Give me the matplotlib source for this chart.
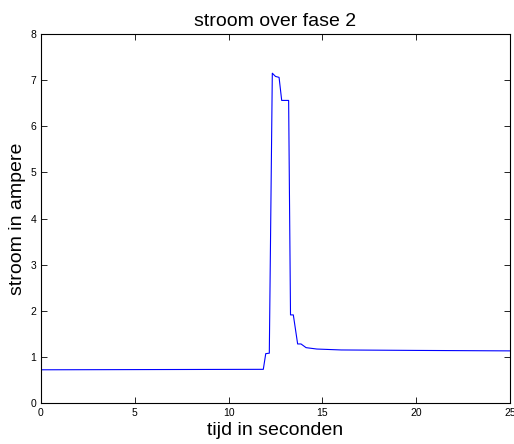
import matplotlib.pyplot as plt

# tijd (s) en stroom (A)
tijd = [0, 11.85, 11.98, 12.17, 12.33, 12.5, 12.69, 12.83, 13.2, 13.3, 13.45,
        13.68, 13.86, 14.13, 14.7, 16, 20, 25]
stroom = [0.72, 0.73, 1.07, 1.08, 7.15, 7.08, 7.06, 6.56, 6.56, 1.91, 1.91,
          1.28, 1.28, 1.2, 1.17, 1.15, 1.14, 1.13]

xticks = [0, 5, 10, 15, 20, 25]
yticks = [0, 1, 2, 3, 4, 5, 6, 7, 8]

plt.rcParams['font.family'] = ['Liberation Sans', 'DejaVu Sans']

fig = plt.figure(figsize=(5.14, 4.44), dpi=100)
ax = fig.add_axes([41/514, 1 - 403/444, 469/514, 369/444])

ax.plot(tijd, stroom, color='#0000ff', linewidth=0.8)

ax.set_xlim(0, 25)
ax.set_ylim(0, 8)
ax.set_xticks(xticks)
ax.set_yticks(yticks)
ax.tick_params(direction='in', top=True, right=True, labelsize=7.5,
               length=4, width=0.6, pad=3.5)
for s in ax.spines.values():
    s.set_linewidth(0.8)

ax.set_title('stroom over fase 2', fontsize=14, pad=6)
ax.set_xlabel('tijd in seconden', fontsize=14, labelpad=3)
ax.set_ylabel('stroom in ampere', fontsize=14, labelpad=3)

fig.savefig('out.png', dpi=100)
